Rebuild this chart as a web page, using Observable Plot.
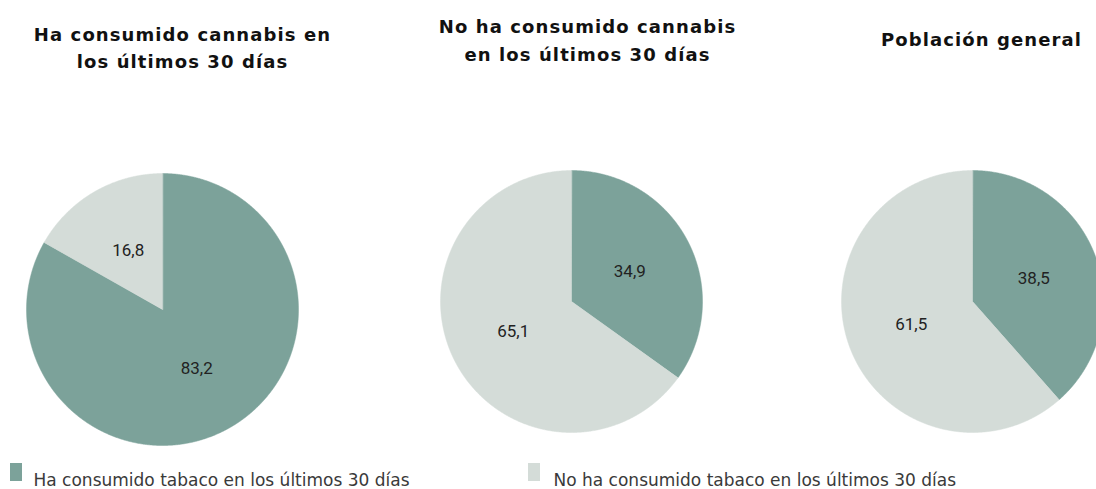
<!DOCTYPE html>
<html><head><meta charset="utf-8">
<script src="https://cdn.jsdelivr.net/npm/d3@7"></script>
<script src="https://cdn.jsdelivr.net/npm/@observablehq/plot@0.6"></script>
<style>html,body{margin:0;padding:0;background:#fff;overflow:hidden}</style>
</head><body><div id="chart"></div>
<script>
// ---- data ----
const groupTitles = [
  ["Ha consumido cannabis en", "los últimos 30 días"],
  ["No ha consumido cannabis", "en los últimos 30 días"],
  ["Población general"]
];
const seriesNames = ["Ha consumido tabaco en los últimos 30 días", "No ha consumido tabaco en los últimos 30 días"];
const smokeTobacco = [83.2, 34.9, 38.5];
const noSmokeTobacco = [16.8, 65.1, 61.5];
const seriesColors = ["#7ca29a", "#d4dcd8"];

// ---- layout ----
const W = 1096, H = 489;
const pieLayout = [{cx: 162, cy: 309, r: 136}, {cx: 571, cy: 301, r: 131}, {cx: 972, cy: 301, r: 131}];
const titleLayout = [{x: 182, y: [40, 67]}, {x: 587, y: [32, 60]}, {x: 981, y: [45]}];
const legendLayout = [{x: 10, textX: 33}, {x: 528, textX: 553}];
const legendY = {y1: 463, y2: 481, baseline: 485};
const fmt = v => v.toFixed(1).replace(".", ",");

const pie = d3.pie().sort(null).value(d => d);
const slicePoints = [];
const labels = [];
pieLayout.forEach((p, i) => {
  const arcs = pie([smokeTobacco[i], noSmokeTobacco[i]]);
  arcs.forEach((a, j) => {
    const key = i + "-" + j;
    slicePoints.push({key, series: seriesNames[j], x: p.cx, y: p.cy});
    const n = Math.max(2, Math.ceil((a.endAngle - a.startAngle) / 0.005));
    for (let k = 0; k <= n; k++) {
      const t = a.startAngle + (a.endAngle - a.startAngle) * k / n;
      slicePoints.push({key, series: seriesNames[j], x: p.cx + p.r * Math.sin(t), y: p.cy - p.r * Math.cos(t)});
    }
    const m = (a.startAngle + a.endAngle) / 2;
    labels.push({x: p.cx + 0.5 * p.r * Math.sin(m), y: p.cy - 0.5 * p.r * Math.cos(m), text: fmt(a.value)});
  });
});

const titleLines = [];
groupTitles.forEach((lines, i) => lines.forEach((t, k) => titleLines.push({x: titleLayout[i].x, y: titleLayout[i].y[k], text: t})));

const legendItems = seriesNames.map((s, j) => ({series: s, x1: legendLayout[j].x, x2: legendLayout[j].x + 12, y1: legendY.y1, y2: legendY.y2, tx: legendLayout[j].textX, ty: legendY.baseline}));

const chart = Plot.plot({
  width: W, height: H,
  margin: 0,
  x: {domain: [0, W], range: [0, W], axis: null},
  y: {domain: [0, H], range: [0, H], axis: null},
  color: {domain: seriesNames, range: seriesColors},
  style: {background: "#fff"},
  marks: [
    Plot.line(slicePoints, {x: "x", y: "y", z: "key", fill: "series", stroke: "series", strokeWidth: 0.5, curve: "linear-closed"}),
    Plot.text(labels, {x: "x", y: "y", text: "text", fontFamily: "Roboto", fontSize: 17, fill: "#222"}),
    Plot.text(titleLines, {x: "x", y: "y", text: "text", lineAnchor: "bottom", fontFamily: "DejaVu Sans", fontWeight: "bold", fontSize: 18, fill: "#111"}),
    Plot.rect(legendItems, {x1: "x1", x2: "x2", y1: "y1", y2: "y2", fill: "series"}),
    Plot.text(legendItems, {x: "tx", y: "ty", text: "series", textAnchor: "start", lineAnchor: "bottom", fontFamily: "DejaVu Sans", fontSize: 17, fill: "#3a3a3a"})
  ]
});
const titleSet = new Set(titleLines.map(d => d.text));
d3.select(chart).selectAll("text").filter(function() { return titleSet.has(this.textContent); }).style("letter-spacing", "1.1px");
document.getElementById("chart").appendChild(chart);
</script>
</body></html>
